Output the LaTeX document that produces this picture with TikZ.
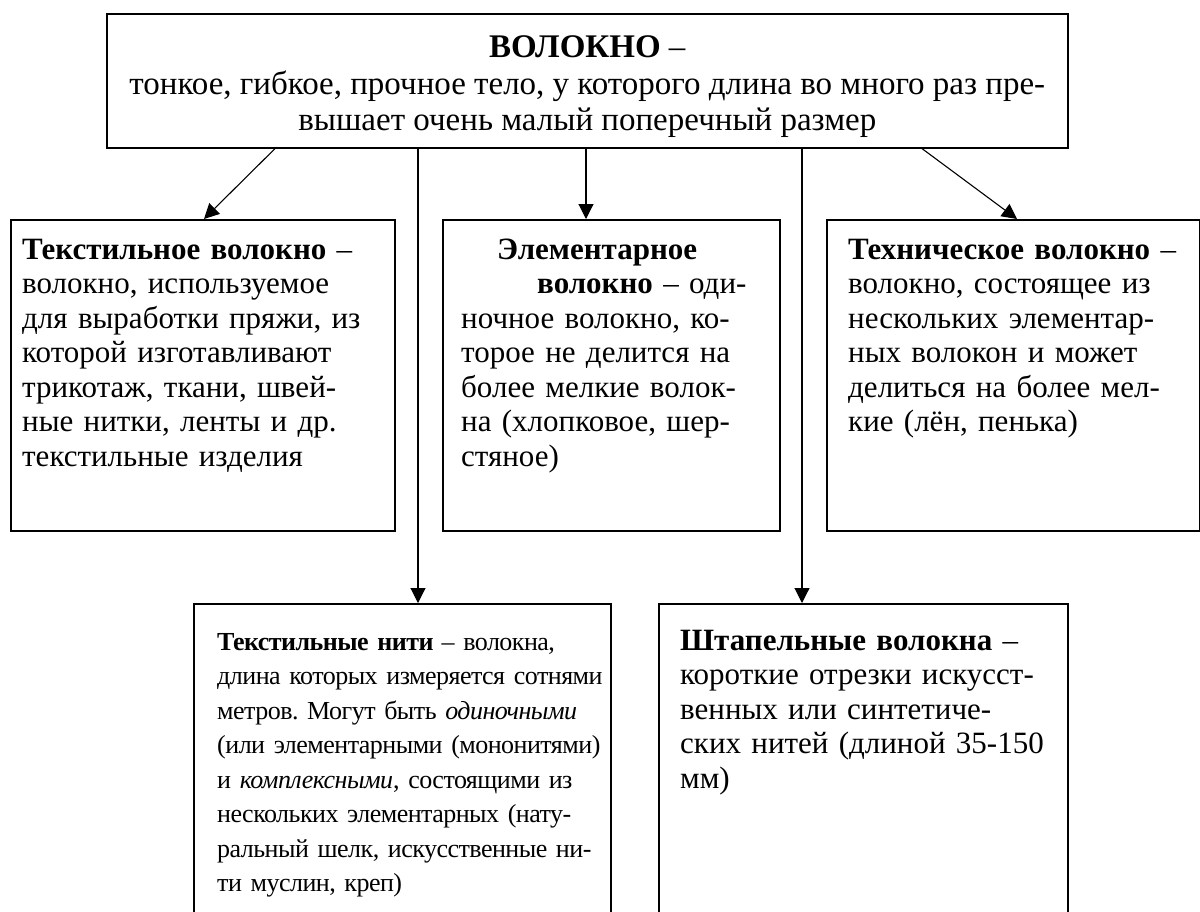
\documentclass[tikz,border=0pt]{standalone}
\usepackage{fontspec}
\setmainfont{Liberation Serif}
\newfontfamily\condfont[LetterSpace=-2.0]{Liberation Serif}
\usetikzlibrary{arrows.meta}
\frenchspacing
\begin{document}
\begin{tikzpicture}[x=1pt,y=-1pt,
  frame/.style={draw, line width=1.6pt, anchor=north west, inner sep=0pt, rectangle},
  txt/.style={anchor=base west, inner sep=0pt, align=left, text width=440pt, font=\fontsize{31}{34.5}\selectfont},
  arr/.style={-{Triangle[length=15pt,width=15pt]}, line width=1.1pt}]
\useasboundingbox (0,0) rectangle (1200,911);
\clip (0,0) rectangle (1200,911);
% frames
\node[frame, minimum width=961pt, minimum height=134pt] (top) at (106,13) {};
\node[frame, minimum width=384pt, minimum height=311pt] (tl) at (10,219) {};
\node[frame, minimum width=337pt, minimum height=311pt] (tm) at (442,219) {};
\node[frame, minimum width=373pt, minimum height=311pt] (tr) at (826,219) {};
\node[frame, minimum width=417pt, minimum height=340pt] (bl) at (193,603) {};
\node[frame, minimum width=409pt, minimum height=340pt] (br) at (658,603) {};
% texts
\node[inner sep=0pt, align=center, font=\fontsize{33}{36.5}\selectfont] (toptxt) at ([yshift=-6pt]top.center)
  {\textbf{ВОЛОКНО} –\\ тонкое, гибкое, прочное тело, у которого длина во много раз пре-\\вышает очень малый поперечный размер};
\node[txt] (tltxt) at (22,259) {\textbf{Текстильное волокно} –\\
волокно, используемое\\
для выработки пряжи, из\\
которой изготавливают\\
трикотаж, ткани, швей-\\
ные нитки, ленты и др.\\
текстильные изделия};
\node[txt] (tmtxt) at (461,259) {\hspace*{36pt}\textbf{Элементарное}\\
\hspace*{76pt}\textbf{волокно} – оди-\\
ночное волокно, ко-\\
торое не делится на\\
более мелкие волок-\\
на (хлопковое, шер-\\
стяное)};
\node[txt] (trtxt) at (848,259) {\textbf{Техническое волокно} –\\
волокно, состоящее из\\
нескольких элементар-\\
ных волокон и может\\
делиться на более мел-\\
кие (лён, пенька)};
\node[txt, font=\condfont\fontsize{26}{34.5}\selectfont] (bltxt) at (217,650) {\textbf{Текстильные нити} – волокна,\\
длина которых измеряется сотнями\\
метров. Могут быть \textit{одиночными}\\
(или элементарными (мононитями)\\
и \textit{комплексными}, состоящими из\\
нескольких элементарных (нату-\\
ральный шелк, искусственные ни-\\
ти муслин, креп)};
\node[txt] (brtxt) at (680,650) {\textbf{Штапельные волокна} –\\
короткие отрезки искусст-\\
венных или синтетиче-\\
ских нитей (длиной 35-150\\
мм)};
% connectors
\draw[arr] ([xshift=169pt]top.south west) -- ([xshift=194pt]tl.north west);
\draw[arr] ([xshift=480pt]top.south west) -- ([xshift=144pt]tm.north west);
\draw[arr] ([xshift=816pt]top.south west) -- ([xshift=191pt]tr.north west);
\draw[arr] ([xshift=312pt]top.south west) -- ([xshift=225pt]bl.north west);
\draw[arr] ([xshift=696pt]top.south west) -- ([xshift=144pt]br.north west);
\end{tikzpicture}
\end{document}
